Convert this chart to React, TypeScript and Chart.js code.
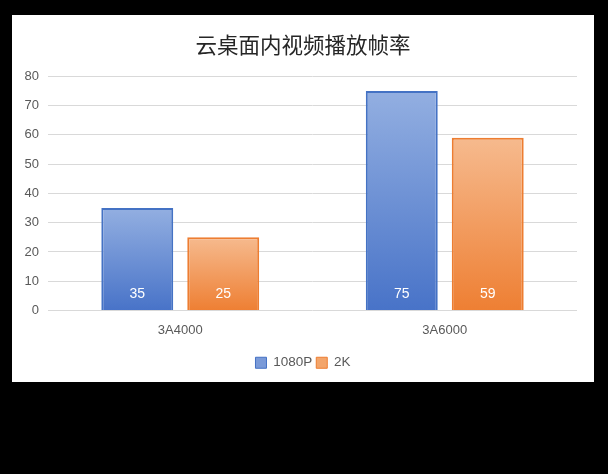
import { useEffect, useRef } from 'react';
import { Chart, registerables } from 'chart.js';

Chart.register(...registerables);

const categories = ['3A4000', '3A6000'];
const seriesNames = ['1080P', '2K'];
const fps1080p = [35, 75];
const fps2k = [25, 59];
const yTicks = [0, 10, 20, 30, 40, 50, 60, 70, 80];

const blue = { top: '#93AFE1', bottom: '#4873C8', border: '#4472C4', swatch: '#7A9AD8' };
const orange = { top: '#F6BA8E', bottom: '#EE7F33', border: '#ED7D31', swatch: '#F3A56B' };

const font = '"Liberation Sans", Arial, sans-serif';

function barGradient(colors: typeof blue) {
  return (ctx: any) => {
    const chart = ctx.chart;
    const yScale = chart.scales?.y;
    if (!chart.chartArea || !yScale || ctx.parsed == null) return colors.bottom;
    const top = yScale.getPixelForValue(ctx.parsed.y);
    const bottom = yScale.getPixelForValue(0);
    const g = chart.ctx.createLinearGradient(0, top, 0, bottom);
    g.addColorStop(0, colors.top);
    g.addColorStop(1, colors.bottom);
    return g;
  };
}

// white value labels inside the bars, near the base
const valueLabels = {
  id: 'valueLabels',
  afterDatasetsDraw(chart: any) {
    const { ctx } = chart;
    const zero = chart.scales.y.getPixelForValue(0);
    ctx.save();
    ctx.fillStyle = '#FFFFFF';
    ctx.font = `14px ${font}`;
    ctx.textAlign = 'center';
    ctx.textBaseline = 'middle';
    chart.data.datasets.forEach((ds: any, i: number) => {
      chart.getDatasetMeta(i).data.forEach((bar: any, j: number) => {
        ctx.fillText(String(ds.data[j]), bar.x, zero - 16);
      });
    });
    ctx.restore();
  },
};

export default function App() {
  const canvasRef = useRef<HTMLCanvasElement>(null);

  useEffect(() => {
    document.body.style.margin = '0';
    document.body.style.background = '#000';
    if (!canvasRef.current) return;
    const palette = [blue, orange];

    const chart = new Chart(canvasRef.current, {
      type: 'bar',
      data: {
        labels: categories,
        datasets: [
          {
            label: seriesNames[0],
            data: fps1080p,
            backgroundColor: barGradient(blue),
            borderColor: blue.border,
            borderWidth: 2,
          },
          {
            label: seriesNames[1],
            data: fps2k,
            backgroundColor: barGradient(orange),
            borderColor: orange.border,
            borderWidth: 2,
          },
        ],
      },
      options: {
        animation: false,
        responsive: false,
        maintainAspectRatio: false,
        datasets: {
          bar: { categoryPercentage: 0.65, barPercentage: 0.837 },
        },
        layout: { padding: { left: 0, right: 0, top: 0, bottom: 2.5 } },
        scales: {
          x: {
            grid: { display: false, drawTicks: false },
            border: { display: false },
            ticks: { color: '#595959', font: { family: font, size: 13 }, padding: 12 },
            afterFit: (s: any) => {
              s.height = 41.5;
            },
          },
          y: {
            min: 0,
            max: 80,
            afterBuildTicks: (s: any) => {
              s.ticks = yTicks.map((v) => ({ value: v }));
            },
            grid: { color: '#D9D9D9', drawTicks: false },
            border: { display: false },
            ticks: { color: '#595959', font: { family: font, size: 13 }, padding: 9 },
            afterFit: (s: any) => {
              s.width = 36;
            },
          },
          // empty right margin so title/legend stay centred on the panel
          yRight: {
            position: 'right',
            grid: { display: false, drawTicks: false },
            border: { display: false },
            ticks: { display: false },
            afterFit: (s: any) => {
              s.width = 17;
            },
          },
        },
        plugins: {
          title: {
            display: true,
            text: '云桌面内视频播放帧率',
            color: '#262626',
            font: { family: '"Noto Sans CJK SC", sans-serif', size: 21.5, weight: 'normal' },
            padding: { top: 17.4, bottom: 18.1 },
          },
          legend: {
            position: 'bottom',
            labels: {
              color: '#595959',
              font: { family: font, size: 13.5 },
              boxWidth: 11,
              boxHeight: 11,
              padding: 4,
              generateLabels: (c: any) =>
                c.data.datasets.map((ds: any, i: number) => ({
                  text: ds.label,
                  fillStyle: palette[i].swatch,
                  strokeStyle: palette[i].border,
                  lineWidth: 1,
                  fontColor: '#595959',
                  hidden: !c.isDatasetVisible(i),
                  datasetIndex: i,
                })),
            },
          },
          tooltip: { enabled: false },
        },
      },
      plugins: [valueLabels],
    });

    return () => chart.destroy();
  }, []);

  return (
    <div style={{ width: 608, height: 474, background: '#000', position: 'relative' }}>
      <div
        style={{
          position: 'absolute',
          left: 12,
          top: 15,
          width: 582,
          height: 367,
          background: '#fff',
        }}
      >
        <canvas ref={canvasRef} width={582} height={367} style={{ width: 582, height: 367 }} />
      </div>
    </div>
  );
}
